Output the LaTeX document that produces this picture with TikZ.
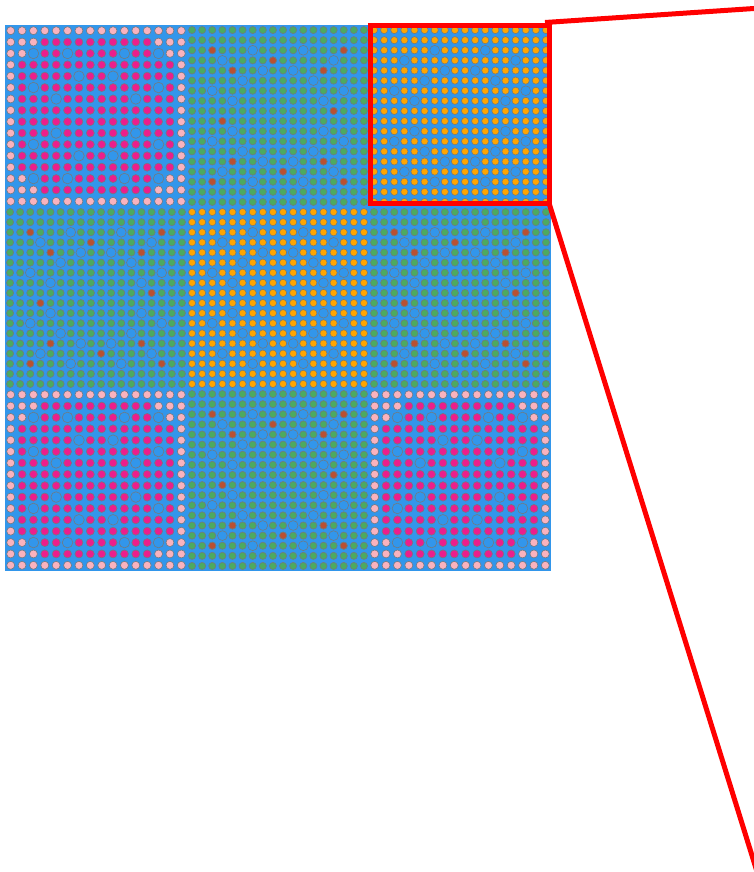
\documentclass[tikz,border=0pt]{standalone}
\usepackage{tikz}
\usetikzlibrary{calc}

\definecolor{water}{RGB}{50,150,235}
\definecolor{fuelgreen}{RGB}{76,170,96}
\definecolor{fuelorange}{RGB}{255,165,0}
\definecolor{fuelpink}{RGB}{236,30,140}
\definecolor{fuellight}{RGB}{250,178,190}
\definecolor{absorber}{RGB}{185,80,50}
\definecolor{clad}{RGB}{112,122,130}

% guide tube and absorber positions (row/col)
\newcommand{\tubesXVIII}{2/6,2/11,3/3,3/14,4/7,4/10,5/5,5/12,6/2,6/15,7/4,7/13,10/4,10/13,11/2,11/15,12/5,12/12,13/7,13/10,14/3,14/14,15/6,15/11}
\newcommand{\tubesXVI}{2/2,2/5,2/10,2/13,4/6,4/9,5/2,5/13,6/4,6/11,9/4,9/11,10/2,10/13,11/6,11/9,13/2,13/5,13/10,13/13}
\newcommand{\absorbers}{2/2,2/15,3/8,4/4,4/13,8/14,9/3,13/4,13/13,14/9,15/2,15/15}

% 18x18 assembly: x0, y0, fuel colour
\newcommand{\asmXVIII}[3]{%
  \fill[water] (#1,#2) rectangle ++(182,182);
  \foreach \r in {0,...,17}
    \foreach \c in {0,...,17}
      \filldraw[pin, fill=#3] ({#1+5.056+\c*10.111},{#2+5.056+\r*10.111}) circle[radius=3.6pt];
  \foreach \r/\c in \tubesXVIII
    \filldraw[tube] ({#1+5.056+\c*10.111},{#2+5.056+\r*10.111}) circle[radius=4.9pt];
}
% green assembly with absorber pins
\newcommand{\asmgreen}[2]{%
  \asmXVIII{#1}{#2}{fuelgreen}
  \foreach \r/\c in \absorbers
    \filldraw[pin, fill=absorber] ({#1+5.056+\c*10.111},{#2+5.056+\r*10.111}) circle[radius=3.6pt];
}
% 16x16 assembly
\newcommand{\asmpink}[2]{%
  \fill[water] (#1,#2) rectangle ++(182,182);
  \foreach \r in {0,...,15}
    \foreach \c in {0,...,15}{
      \pgfmathtruncatemacro\da{min(\r,15-\r)}
      \pgfmathtruncatemacro\db{min(\c,15-\c)}
      \pgfmathtruncatemacro\outer{(\da==0)||(\db==0)||(\da+\db<4)}
      \ifnum\outer=1 \def\pincol{fuellight}\else\def\pincol{fuelpink}\fi
      \filldraw[pin, fill=\pincol] ({#1+5.688+\c*11.375},{#2+5.688+\r*11.375}) circle[radius=4pt];
    }
  \foreach \r/\c in \tubesXVI
    \filldraw[tube] ({#1+5.688+\c*11.375},{#2+5.688+\r*11.375}) circle[radius=5.3pt];
}

\begin{document}
\begin{tikzpicture}[x=1pt, y=-1pt,
    pin/.style={draw=clad, line width=0.6pt},
    tube/.style={draw=clad, fill=water, line width=0.6pt},
    zoomline/.style={draw=red, line width=5pt}]
  \useasboundingbox (0,0) rectangle (754,872);
  \clip (0,0) rectangle (754,872);

  \asmpink{5}{25}
  \asmgreen{187}{25}
  \asmXVIII{369}{25}{fuelorange}

  \asmgreen{5}{207}
  \asmXVIII{187}{207}{fuelorange}
  \asmgreen{369}{207}

  \asmpink{5}{389}
  \asmgreen{187}{389}
  \asmpink{369}{389}

  \coordinate (box nw) at (370,26);
  \coordinate (box se) at (549,203);
  \coordinate (box ne) at (545,22.5);
  \coordinate (inset top) at (760,8.1);
  \coordinate (inset bottom) at (759.6,880);

  \draw[zoomline] (box nw) rectangle (box se);
  \draw[zoomline] (box ne) -- (inset top);
  \draw[zoomline] (box se) -- (inset bottom);
\end{tikzpicture}
\end{document}
